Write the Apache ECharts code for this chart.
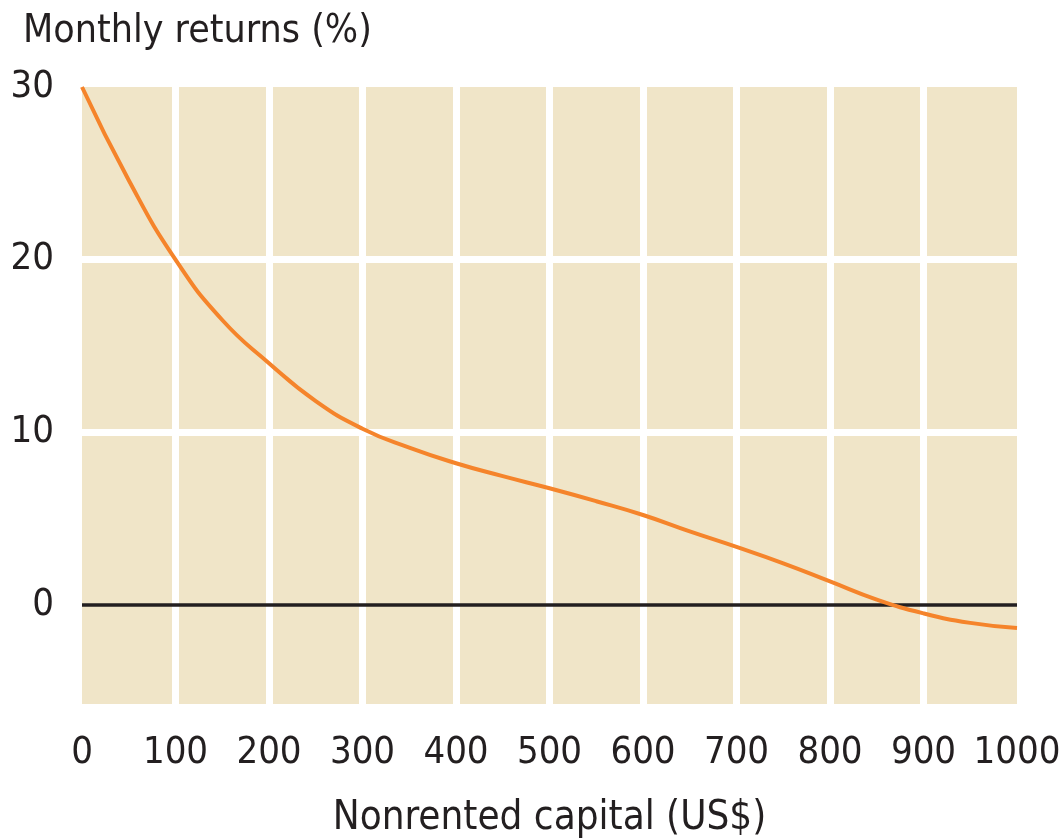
<!DOCTYPE html>
<html>
<head>
<meta charset="utf-8">
<script src="https://cdn.jsdelivr.net/npm/echarts@6/dist/echarts.min.js"></script>
<style>
  html, body { margin: 0; padding: 0; background: #fff; }
  #myChart { width: 1059px; height: 839px; }
</style>
</head>
<body>
<div id="myChart"></div>
<script>
// capital in US$, returns in %
var capital = [0, 50, 100, 150, 200, 250, 300, 350, 400, 450, 500, 550, 600, 650, 700, 750, 800, 850, 900, 950, 1000];
var returns = [30, 24.6, 20, 16.5, 14.0, 11.8, 10.2, 9.1, 8.2, 7.45, 6.75, 6.0, 5.2, 4.25, 3.35, 2.4, 1.35, 0.3, -0.5, -1.05, -1.35];
var xTicks = [0, 100, 200, 300, 400, 500, 600, 700, 800, 900, 1000];
var yTicks = [0, 10, 20, 30];
var yGrid = [10, 20];
var xGrid = [100, 200, 300, 400, 500, 600, 700, 800, 900];

var font = '"Liberation Sans Narrow", "DejaVu Sans Condensed", "Liberation Sans", sans-serif';
var textColor = '#231f20';

var chartDom = document.getElementById('myChart');
var myChart = echarts.init(chartDom, null, { renderer: 'canvas' });

var gridLines = [];
yGrid.forEach(function (v) { gridLines.push({ yAxis: v }); });
xGrid.forEach(function (v) { gridLines.push({ xAxis: v }); });

var option = {
  animation: false,
  backgroundColor: '#ffffff',
  title: {
    text: 'Monthly returns (%)',
    left: 18,
    top: 7,
    textStyle: { fontFamily: font, fontSize: 39, fontWeight: 'normal', color: textColor }
  },
  grid: {
    left: 82,
    right: 42,
    top: 87,
    bottom: 135,
    outerBoundsMode: 'none',
    containLabel: false,
    show: true,
    borderWidth: 0,
    backgroundColor: '#f0e5c8'
  },
  xAxis: {
    type: 'value',
    min: 0,
    max: 1000,
    interval: 100,
    name: 'Nonrented capital (US$)',
    nameLocation: 'middle',
    nameGap: 95,
    nameTextStyle: { fontFamily: font, fontSize: 40, color: textColor },
    axisLine: { show: false },
    axisTick: { show: false },
    splitLine: { show: false },
    axisLabel: {
      customValues: xTicks,
      formatter: function (v) { return String(v); },
      margin: 30,
      fontFamily: font,
      fontSize: 38,
      color: textColor
    }
  },
  yAxis: {
    type: 'value',
    min: -5.75,
    max: 30,
    axisLine: { show: false },
    axisTick: { show: false },
    splitLine: { show: false },
    axisLabel: {
      customValues: yTicks,
      margin: 28,
      fontFamily: font,
      fontSize: 38,
      color: textColor
    }
  },
  series: [
    {
      // white grid lines
      type: 'line',
      data: [],
      z: 1,
      silent: true,
      markLine: {
        silent: true,
        symbol: 'none',
        label: { show: false },
        lineStyle: { color: '#ffffff', width: 7, type: 'solid' },
        data: gridLines
      }
    },
    {
      // zero line
      type: 'line',
      data: [],
      z: 2,
      silent: true,
      markLine: {
        silent: true,
        symbol: 'none',
        label: { show: false },
        lineStyle: { color: '#231f20', width: 3.5, type: 'solid' },
        data: [{ yAxis: 0 }]
      }
    },
    {
      name: 'Monthly returns',
      type: 'line',
      z: 5,
      smooth: true,
      showSymbol: false,
      lineStyle: { color: '#f5842b', width: 4 },
      data: capital.map(function (c, i) { return [c, returns[i]]; })
    }
  ]
};

option && myChart.setOption(option);
</script>
</body>
</html>
